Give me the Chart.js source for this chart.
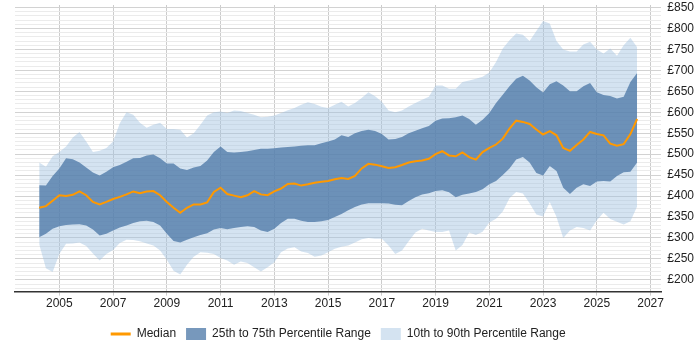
<!DOCTYPE html>
<html>
<head>
<meta charset="utf-8">
<script src="https://cdn.jsdelivr.net/npm/chart.js@4.4.1/dist/chart.umd.min.js"></script>
<style>
  html, body { margin: 0; padding: 0; background: #fff; }
  #wrap { width: 700px; height: 350px; }
</style>
</head>
<body>
<div id="wrap"><canvas id="rates"></canvas></div>
<script>
// quarterly points, 2004 Q2 .. 2026 Q3
const dates = [
  2004.25, 2004.5, 2004.75,
  2005, 2005.25, 2005.5, 2005.75,
  2006, 2006.25, 2006.5, 2006.75,
  2007, 2007.25, 2007.5, 2007.75,
  2008, 2008.25, 2008.5, 2008.75,
  2009, 2009.25, 2009.5, 2009.75,
  2010, 2010.25, 2010.5, 2010.75,
  2011, 2011.25, 2011.5, 2011.75,
  2012, 2012.25, 2012.5, 2012.75,
  2013, 2013.25, 2013.5, 2013.75,
  2014, 2014.25, 2014.5, 2014.75,
  2015, 2015.25, 2015.5, 2015.75,
  2016, 2016.25, 2016.5, 2016.75,
  2017, 2017.25, 2017.5, 2017.75,
  2018, 2018.25, 2018.5, 2018.75,
  2019, 2019.25, 2019.5, 2019.75,
  2020, 2020.25, 2020.5, 2020.75,
  2021, 2021.25, 2021.5, 2021.75,
  2022, 2022.25, 2022.5, 2022.75,
  2023, 2023.25, 2023.5, 2023.75,
  2024, 2024.25, 2024.5, 2024.75,
  2025, 2025.25, 2025.5, 2025.75,
  2026, 2026.25, 2026.5
];

const median = [
  372, 376, 389,
  402, 400, 403, 411,
  402, 386, 380, 386,
  393, 398, 404, 411,
  407, 411, 412, 402,
  386, 372, 360, 372,
  380, 380, 385, 410,
  420, 405, 401, 397,
  402, 412, 404, 402,
  411, 418, 429, 430,
  425, 428, 432, 434,
  436, 440, 443, 441,
  448, 466, 477, 475,
  471, 467, 469, 474,
  480, 483, 485, 489,
  500, 507, 497, 495,
  504, 493, 487, 505,
  515, 523, 537, 561,
  580, 577, 572, 559,
  547, 555, 545, 515,
  508, 522, 535, 553,
  548, 545, 525, 520,
  524, 548, 584
];

const p75 = [
  426, 425, 448,
  466, 490, 488, 480,
  468, 456, 449, 458,
  469, 474, 482, 490,
  491, 497, 499, 490,
  478, 478, 466, 462,
  468, 472, 485, 505,
  518, 505, 504, 505,
  507, 510, 513, 513,
  514, 516, 517, 518,
  520, 521, 521, 526,
  530, 535, 545, 541,
  550, 555, 558, 555,
  548, 535, 536, 541,
  550, 556, 562, 567,
  580, 585, 586, 588,
  592, 584, 570, 582,
  598, 622, 642, 662,
  680, 687, 676, 660,
  647, 667, 674, 664,
  650, 650, 662, 670,
  648, 641, 639, 633,
  637, 672, 694
];

const p25 = [
  302, 310, 322,
  328, 331, 332, 333,
  330, 320, 306, 310,
  318, 325, 330, 336,
  340, 341, 338, 330,
  310, 293, 289, 296,
  302, 307, 311, 320,
  324, 321, 324, 326,
  328, 326, 318, 314,
  322, 336, 346, 346,
  341, 338, 338, 340,
  343, 350, 357, 366,
  374, 380, 383, 383,
  383, 382, 379, 378,
  388, 397, 404, 407,
  412, 414, 409, 397,
  403, 406, 410, 416,
  428, 436, 450, 466,
  487, 493, 480, 455,
  449, 472, 460, 420,
  405, 420, 428, 424,
  435, 436, 435, 448,
  457, 458, 480
];

const p90 = [
  480, 470, 495,
  505, 518, 540, 553,
  530, 505, 508, 515,
  530, 574, 600, 594,
  575, 563, 570, 575,
  560, 560, 558, 540,
  550, 570, 592, 600,
  602, 598, 604, 603,
  598, 594, 588, 589,
  592, 598, 605, 610,
  618, 624, 620, 613,
  610, 618, 625, 614,
  622, 634, 648, 638,
  625, 604, 600, 604,
  614, 622, 630, 637,
  664, 664, 656, 656,
  672, 676, 680, 685,
  695, 720, 752, 772,
  788, 785, 770, 794,
  818, 812, 770, 750,
  745, 745, 762, 768,
  750, 740, 752, 735,
  760, 778, 755
];

const p10 = [
  285, 228, 219,
  262, 286, 287, 289,
  281, 263, 246, 262,
  271, 288, 296, 295,
  292, 287, 282, 270,
  248, 222, 213, 236,
  255, 266, 265, 262,
  252, 246, 236, 244,
  240, 230, 220, 230,
  242, 266, 275, 278,
  268, 264, 255, 258,
  266, 274, 279, 282,
  289, 297, 300, 298,
  298, 282, 262, 270,
  292, 313, 322, 318,
  314, 314, 318, 270,
  283, 313, 307, 315,
  337, 346, 363, 395,
  410, 406, 383, 356,
  351, 386, 350, 300,
  318, 326, 324, 318,
  342, 360, 345, 339,
  332, 340, 375
];

const yearTicks = [2005, 2007, 2009, 2011, 2013, 2015, 2017, 2019, 2021, 2023, 2025, 2027];

function points(values) {
  return values.map((v, i) => ({ x: dates[i], y: v }));
}

const darkBand = 'rgba(73,118,165,0.75)';
const lightBand = 'rgba(160,192,224,0.45)';
const none = 'rgba(0,0,0,0)';

Chart.defaults.font.family = "'Liberation Sans', Arial, sans-serif";
Chart.defaults.font.size = 12;
Chart.defaults.color = '#222';

new Chart(document.getElementById('rates'), {
  type: 'line',
  data: {
    datasets: [
      {
        label: 'Median',
        data: points(median),
        borderColor: '#ff9900',
        borderWidth: 2,
        pointRadius: 0,
        pointStyle: 'line',
        pointBorderColor: '#ff9900',
        pointBorderWidth: 3,
        fill: false
      },
      {
        label: '25th to 75th Percentile Range',
        data: points(p75),
        borderColor: none,
        borderWidth: 0,
        backgroundColor: darkBand,
        pointBackgroundColor: darkBand,
        pointBorderWidth: 0,
        pointRadius: 0,
        pointStyle: 'rect',
        fill: '+1'
      },
      {
        label: '',
        data: points(p25),
        borderColor: none,
        borderWidth: 0,
        pointRadius: 0,
        fill: false
      },
      {
        label: '10th to 90th Percentile Range',
        data: points(p90),
        borderColor: none,
        borderWidth: 0,
        backgroundColor: lightBand,
        pointBackgroundColor: lightBand,
        pointBorderWidth: 0,
        pointRadius: 0,
        pointStyle: 'rect',
        fill: '+1'
      },
      {
        label: '',
        data: points(p10),
        borderColor: none,
        borderWidth: 0,
        pointRadius: 0,
        fill: false
      }
    ]
  },
  options: {
    responsive: true,
    maintainAspectRatio: false,
    animation: false,
    events: [],
    layout: { padding: { left: 15, right: 0, top: 5, bottom: 0 } },
    plugins: {
      legend: {
        position: 'bottom',
        fullSize: false,
        labels: {
          usePointStyle: true,
          pointStyleWidth: 20,
          padding: 10,
          color: '#222',
          filter: item => item.text !== ''
        }
      },
      tooltip: { enabled: false }
    },
    scales: {
      x: {
        type: 'linear',
        min: 2003.35,
        max: 2027.4,
        afterBuildTicks: axis => { axis.ticks = yearTicks.map(v => ({ value: v })); },
        afterFit: axis => { axis.height += 6; },
        ticks: { callback: v => String(v), autoSkip: false, maxRotation: 0, padding: 1 },
        grid: { color: '#cccccc', tickLength: 4 },
        border: { color: '#333', width: 1.5 }
      },
      y: {
        position: 'right',
        min: 172,
        max: 856,
        afterBuildTicks: axis => {
          const t = [];
          for (let v = 180; v <= 850; v += 10) t.push({ value: v });
          axis.ticks = t;
        },
        afterFit: axis => { axis.paddingTop = 0; axis.paddingBottom = 0; },
        ticks: {
          autoSkip: false,
          padding: 6,
          callback: v => (v % 50 === 0 ? '£' + v : '')
        },
        grid: {
          drawTicks: false,
          color: ctx => (ctx.tick && ctx.tick.value % 50 === 0 ? '#d2d2d2' : '#ebebeb')
        },
        border: { display: false }
      }
    }
  }
});
</script>
</body>
</html>
